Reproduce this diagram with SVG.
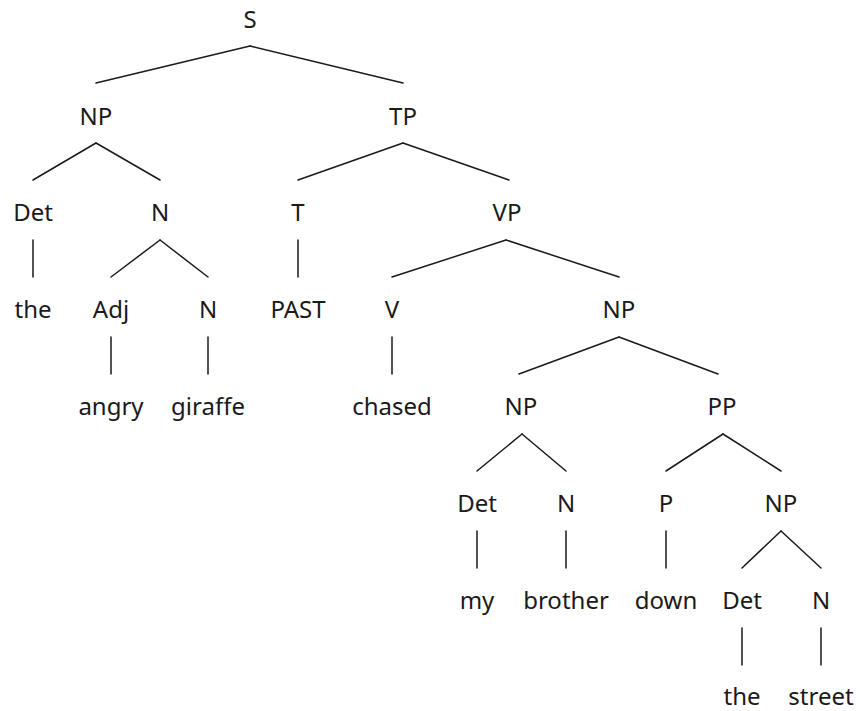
<svg xmlns="http://www.w3.org/2000/svg" width="860" height="711" viewBox="0 0 860 711">
<style>
text{font-family:"Noto Sans","Open Sans",sans-serif;font-size:24px;fill:#1a1a1a;text-anchor:middle}
.e line{stroke:#1a1a1a;stroke-width:1.5;stroke-linecap:round}
</style>
<rect width="860" height="711" fill="#fff"/>
<g class="e" id="connectors">
<line x1="250" y1="46" x2="96" y2="83"/>
<line x1="250" y1="46" x2="403" y2="83"/>
<line x1="96" y1="143" x2="33" y2="180"/>
<line x1="96" y1="143" x2="160" y2="180"/>
<line x1="403" y1="143" x2="298" y2="180"/>
<line x1="403" y1="143" x2="509" y2="180"/>
<line x1="33" y1="240" x2="33" y2="277"/>
<line x1="160" y1="240" x2="111" y2="277"/>
<line x1="160" y1="240" x2="208" y2="277"/>
<line x1="298" y1="240" x2="298" y2="277"/>
<line x1="506" y1="240" x2="392" y2="277"/>
<line x1="506" y1="240" x2="619" y2="277"/>
<line x1="111" y1="337" x2="111" y2="374"/>
<line x1="208" y1="337" x2="208" y2="374"/>
<line x1="392" y1="337" x2="392" y2="374"/>
<line x1="619" y1="337" x2="519" y2="374"/>
<line x1="619" y1="337" x2="718" y2="374"/>
<line x1="522" y1="434" x2="477" y2="471"/>
<line x1="522" y1="434" x2="566" y2="471"/>
<line x1="723" y1="434" x2="666" y2="471"/>
<line x1="723" y1="434" x2="781" y2="471"/>
<line x1="477" y1="531" x2="477" y2="568"/>
<line x1="566" y1="531" x2="566" y2="568"/>
<line x1="666" y1="531" x2="666" y2="568"/>
<line x1="781" y1="531" x2="742" y2="568"/>
<line x1="781" y1="531" x2="821" y2="568"/>
<line x1="742" y1="628" x2="742" y2="665"/>
<line x1="821" y1="628" x2="821" y2="665"/>
</g>
<g id="n-S"><text x="250" y="28">S</text></g>
<g id="n-NP1"><text x="96" y="125">NP</text></g>
<g id="n-TP"><text x="403" y="125">TP</text></g>
<g id="n-Det1"><text x="33" y="221">Det</text></g>
<g id="n-N1"><text x="160" y="221">N</text></g>
<g id="n-T"><text x="298" y="221">T</text></g>
<g id="n-VP"><text x="507" y="221">VP</text></g>
<g id="n-the1"><text x="33" y="318">the</text></g>
<g id="n-Adj"><text x="111" y="318">Adj</text></g>
<g id="n-N2"><text x="208" y="318">N</text></g>
<g id="n-PAST"><text x="298" y="318">PAST</text></g>
<g id="n-V"><text x="392" y="318">V</text></g>
<g id="n-NP2"><text x="619" y="318">NP</text></g>
<g id="n-angry"><text x="111" y="415">angry</text></g>
<g id="n-giraffe"><text x="208" y="415">giraffe</text></g>
<g id="n-chased"><text x="392" y="415">chased</text></g>
<g id="n-NP3"><text x="521" y="415">NP</text></g>
<g id="n-PP"><text x="722" y="415">PP</text></g>
<g id="n-Det2"><text x="477" y="512">Det</text></g>
<g id="n-N3"><text x="566" y="512">N</text></g>
<g id="n-P"><text x="666" y="512">P</text></g>
<g id="n-NP4"><text x="781" y="512">NP</text></g>
<g id="n-my"><text x="477" y="609">my</text></g>
<g id="n-brother"><text x="566" y="609">brother</text></g>
<g id="n-down"><text x="666" y="609">down</text></g>
<g id="n-Det3"><text x="742" y="609">Det</text></g>
<g id="n-N4"><text x="821" y="609">N</text></g>
<g id="n-the2"><text x="742" y="705">the</text></g>
<g id="n-street"><text x="821" y="705">street</text></g>
</svg>
